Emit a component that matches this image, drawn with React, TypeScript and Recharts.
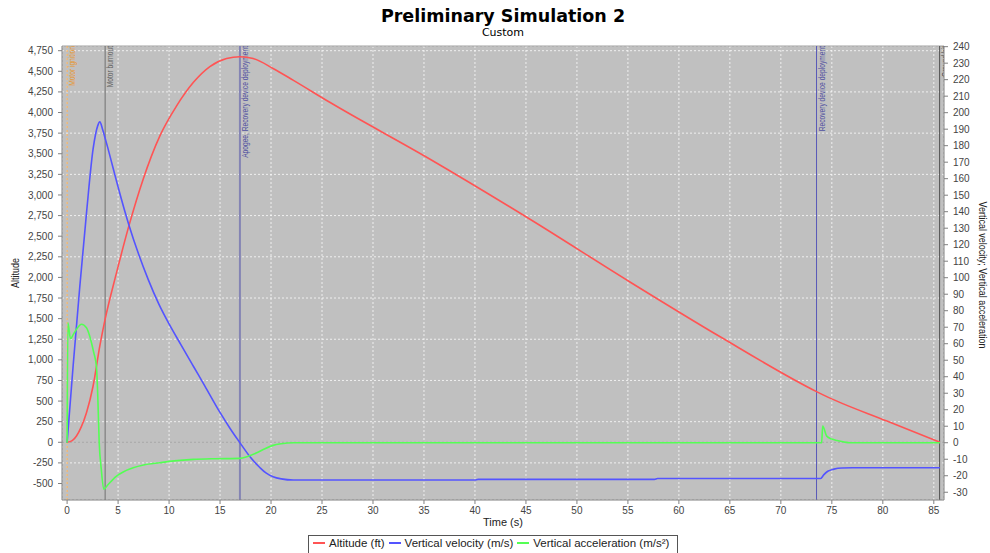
import React from 'react';
import { ComposedChart, Line, XAxis, YAxis, CartesianGrid, ReferenceLine } from 'recharts';

// Altitude (ft)
const altitudeTime = [0, 0.5, 0.92, 1.4, 1.9, 2.55, 3.21, 3.73, 4.85, 6.06, 7.46, 9.1, 10.74, 12.37, 14.0, 15.64, 16.95, 18.25, 20.2, 22.2, 25.8, 35.6, 45.4, 55.2, 64.05, 73.5, 74.4, 80.4, 85.6];
const altitudeFt = [0, 20, 76, 190, 359, 683, 1169, 1493, 2058, 2625, 3192, 3717, 4081, 4364, 4558, 4655, 4677, 4655, 4535, 4390, 4121, 3434, 2706, 1945, 1280, 615, 560, 258, 0];

// Vertical velocity (m/s)
const velocityTime = [0, 0.59, 1.25, 1.9, 2.55, 3.0, 3.21, 3.5, 3.73, 4.0, 4.51, 5.0, 6.06, 7.0, 7.95, 9.0, 10.0, 11.2, 12.37, 13.5, 14.98, 16.0, 16.95, 18.0, 18.9, 19.5, 20.2, 21.0, 22.2, 40.0, 40.3, 57.6, 57.9, 73.9, 74.2, 74.6, 75.2, 76.0, 77.0, 85.6];
const velocityMs = [0, 46.5, 95, 139, 178, 192, 194.4, 189.5, 184.5, 178.5, 166.5, 155, 132, 114.5, 99, 84, 72, 59, 46.5, 34.5, 18.5, 8.5, 0, -9, -15, -18.3, -20.6, -21.9, -22.6, -22.6, -22.2, -22.2, -21.7, -21.7, -19.5, -17.3, -16, -15.3, -15.2, -15.2];

// Vertical acceleration (m/s²)
const accelTime = [0, 0.08, 0.33, 0.6, 0.92, 1.41, 1.9, 2.2, 2.39, 2.6, 2.88, 3.0, 3.15, 3.35, 3.6, 4.0, 4.85, 5.5, 6.48, 7.5, 9.1, 10.5, 12.37, 14.5, 16.95, 17.7, 18.6, 19.4, 20.2, 21.0, 22.2, 74.0, 74.1, 74.5, 75.0, 75.5, 76.2, 76.8, 85.6];
const accelMs2 = [0, 72.7, 63, 65.5, 68.7, 71.8, 69.7, 65, 60.6, 55, 46, 30, 0, -16, -28.2, -25.5, -20.2, -17.7, -15.2, -13.5, -12.1, -11, -10.1, -9.7, -9.5, -8.3, -6.1, -3.6, -1.6, -0.6, 0, 0, 10.1, 4, 2.2, 1.3, 0.4, 0, 0];

// flight events
const eventTimes = [0, 3.73, 16.95, 73.5, 85.57];
const eventNames = ['Motor ignition', 'Motor burnout', 'Apogee, Recovery device deployment', 'Recovery device deployment', 'Ground hit'];

const timeTicks = [0, 5, 10, 15, 20, 25, 30, 35, 40, 45, 50, 55, 60, 65, 70, 75, 80, 85];
const altitudeTicks = [-500, -250, 0, 250, 500, 750, 1000, 1250, 1500, 1750, 2000, 2250, 2500, 2750, 3000, 3250, 3500, 3750, 4000, 4250, 4500, 4750];
const rateTicks = [-30, -20, -10, 0, 10, 20, 30, 40, 50, 60, 70, 80, 90, 100, 110, 120, 130, 140, 150, 160, 170, 180, 190, 200, 210, 220, 230, 240];

const eventStyles = [
  { stroke: '#f0a040', dash: '2 2', width: 1, text: '#e8962e' },
  { stroke: '#707070', dash: undefined, width: 1, text: '#606060' },
  { stroke: '#8484b4', dash: undefined, width: 2, text: '#5050a0' },
  { stroke: '#5858b8', dash: undefined, width: 1, text: '#5050a0' },
  { stroke: '#505050', dash: undefined, width: 1, text: '#404040' },
];

const W = 990;
const H = 553;
const MARGIN = { top: 46, right: 6, bottom: 28, left: 10 };
const LEFT_W = 52;
const RIGHT_W = 40;
const PLOT_RIGHT = W - MARGIN.right - RIGHT_W;
const PLOT_LEFT = MARGIN.left + LEFT_W;

const SANS = '"Liberation Sans", Arial, sans-serif';
const NARROW = '"Liberation Sans Narrow", "Liberation Sans", Arial, sans-serif';

const COLORS = { alt: '#ff5454', vel: '#5454ff', acc: '#54ff54' };

const toPoints = (ts: number[], vs: number[]) => ts.map((t, i) => ({ t, v: vs[i] }));
const altitudeData = toPoints(altitudeTime, altitudeFt);
const velocityData = toPoints(velocityTime, velocityMs);
const accelData = toPoints(accelTime, accelMs2);

const fmt = (v: number) => v.toLocaleString('en-US');

const EventLabel = ({ viewBox, text, color, idx }: any) => {
  if (!viewBox) return null;
  const { x, y, height } = viewBox;
  const clipId = `evclip-${idx}`;
  const tx = x + 8;
  const ty = y;
  return (
    <g clipPath={`url(#${clipId})`}>
      <defs>
        <clipPath id={clipId}>
          <rect x={x} y={y} width={Math.max(0, Math.min(14, PLOT_RIGHT - x))} height={height} />
        </clipPath>
      </defs>
      <text
        x={0}
        y={0}
        transform={`translate(${tx} ${ty}) rotate(-90) scale(0.7 1)`}
        textAnchor="end"
        fontSize={9.5}
        fontFamily={NARROW}
        fill={color}
      >
        {text}
      </text>
    </g>
  );
};

const legendItems = [
  { name: 'Altitude (ft)', color: COLORS.alt },
  { name: 'Vertical velocity (m/s)', color: COLORS.vel },
  { name: 'Vertical acceleration (m/s²)', color: COLORS.acc },
];

export default function App() {
  return (
    <div style={{ position: 'absolute', left: 0, top: 0, width: W, height: H, background: '#fff', overflow: 'hidden' }}>
      <div style={{ position: 'absolute', top: 6, left: PLOT_LEFT, width: PLOT_RIGHT - PLOT_LEFT, textAlign: 'center', fontFamily: '"DejaVu Sans", sans-serif', fontWeight: 'bold', fontSize: 17.5, color: '#000' }}>
        Preliminary Simulation 2
      </div>
      <div style={{ position: 'absolute', top: 26, left: PLOT_LEFT, width: PLOT_RIGHT - PLOT_LEFT, textAlign: 'center', fontFamily: '"DejaVu Sans", sans-serif', fontSize: 11, color: '#000' }}>
        Custom
      </div>

      <ComposedChart width={W} height={H} margin={MARGIN}>
        <CartesianGrid yAxisId="left" fill="#c0c0c0" stroke="#ffffff" strokeOpacity={0.75} strokeDasharray="2 2" />
        <XAxis
          type="number"
          dataKey="t"
          domain={[-0.5, 86]}
          ticks={timeTicks}
          allowDataOverflow
          height={25}
          tickSize={4}
          tickMargin={3}
          axisLine={{ stroke: '#808080' }}
          tickLine={{ stroke: '#808080' }}
          tick={{ fontSize: 10, fill: '#444', fontFamily: SANS }}
        />
        <YAxis
          yAxisId="left"
          domain={[-700, 4807]}
          ticks={altitudeTicks}
          allowDataOverflow
          width={LEFT_W}
          tickSize={4}
          tickMargin={5}
          tickFormatter={fmt}
          axisLine={{ stroke: '#808080' }}
          tickLine={{ stroke: '#808080' }}
          tick={{ fontSize: 10, fill: '#444', fontFamily: SANS }}
        />
        <YAxis
          yAxisId="right"
          orientation="right"
          domain={[-34.7, 240.4]}
          ticks={rateTicks}
          allowDataOverflow
          width={RIGHT_W}
          tickSize={4}
          tickMargin={5}
          axisLine={{ stroke: '#808080' }}
          tickLine={{ stroke: '#808080' }}
          tick={{ fontSize: 10, fill: '#444', fontFamily: SANS }}
        />
        <ReferenceLine yAxisId="left" y={4807} stroke="#a0a0a0" />
        <ReferenceLine yAxisId="left" y={0} stroke="#a8a8a8" strokeDasharray="2 2" />

        {eventTimes.map((t, i) => (
          <ReferenceLine
            key={`ev-${i}`}
            yAxisId="left"
            x={t}
            stroke={eventStyles[i].stroke}
            strokeWidth={eventStyles[i].width}
            strokeDasharray={eventStyles[i].dash}
            label={(props: any) => <EventLabel {...props} text={eventNames[i]} color={eventStyles[i].text} idx={i} />}
          />
        ))}

        <Line yAxisId="left" data={altitudeData} dataKey="v" type="monotone" stroke={COLORS.alt} strokeWidth={1.6} dot={false} isAnimationActive={false} name="Altitude (ft)" />
        <Line yAxisId="right" data={velocityData} dataKey="v" type="monotone" stroke={COLORS.vel} strokeWidth={1.6} dot={false} isAnimationActive={false} name="Vertical velocity (m/s)" />
        <Line yAxisId="right" data={accelData} dataKey="v" type="monotone" stroke={COLORS.acc} strokeWidth={1.6} dot={false} isAnimationActive={false} name="Vertical acceleration (m/s²)" />
      </ComposedChart>

      {/* axis titles */}
      <div style={{ position: 'absolute', left: 15, top: 273, transform: 'translate(-50%, -50%) rotate(-90deg) scaleX(0.78)', fontFamily: NARROW, fontSize: 11.5, color: '#222', whiteSpace: 'nowrap' }}>
        Altitude
      </div>
      <div style={{ position: 'absolute', left: 983, top: 275, transform: 'translate(-50%, -50%) rotate(90deg) scaleX(0.78)', fontFamily: NARROW, fontSize: 11.5, color: '#222', whiteSpace: 'nowrap' }}>
        Vertical velocity; Vertical acceleration
      </div>
      <div style={{ position: 'absolute', top: 516, left: PLOT_LEFT, width: PLOT_RIGHT - PLOT_LEFT, textAlign: 'center', fontFamily: SANS, fontSize: 11, color: '#222' }}>
        Time (s)
      </div>

      {/* legend */}
      <div style={{ position: 'absolute', top: 535, left: 308, height: 24, border: '1px solid #555', padding: '0 4px', display: 'flex', alignItems: 'flex-start', fontFamily: SANS, fontSize: 11.5, color: '#222', whiteSpace: 'nowrap', background: '#fff' }}>
        {legendItems.map((it) => (
          <div key={it.name} style={{ display: 'flex', alignItems: 'center', marginRight: 4, marginTop: 1 }}>
            <span style={{ display: 'inline-block', width: 12, height: 1.5, background: it.color, marginRight: 4 }} />
            <span>{it.name}</span>
          </div>
        ))}
      </div>
    </div>
  );
}
